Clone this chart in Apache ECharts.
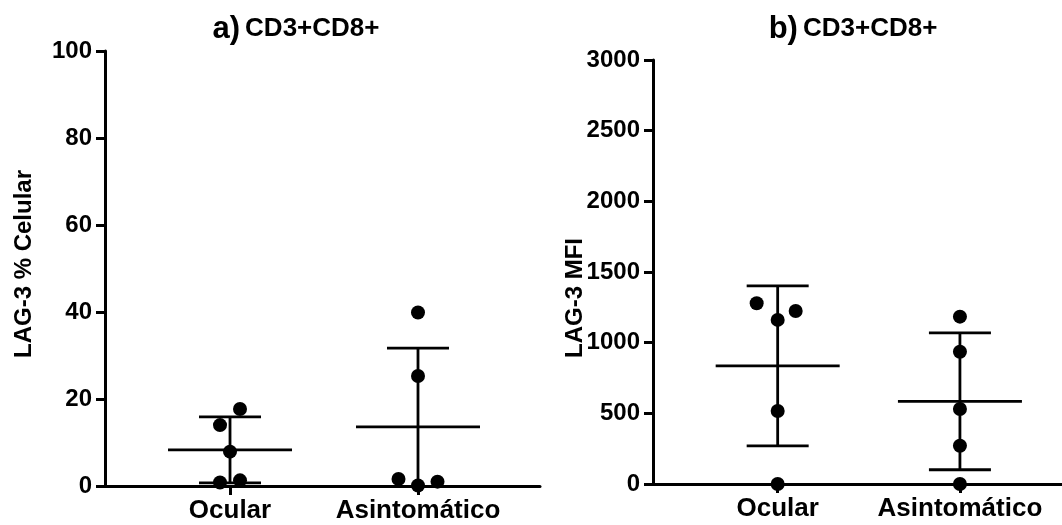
<!DOCTYPE html>
<html><head><meta charset="utf-8">
<script src="https://cdn.jsdelivr.net/npm/echarts@6/dist/echarts.min.js"></script>
<style>html,body{margin:0;padding:0;background:#fff}#c{width:1062px;height:525px}</style>
</head><body><div id="c"></div>
<script>
// ---- data ----
const categories = ['Ocular', 'Asintomático'];
// panel a) LAG-3 % Celular
const pctOcular = [17.7, 14.0, 7.9, 0.8, 1.3];
const pctAsint  = [39.9, 25.3, 1.6, 0.1, 1.0];
const pctMean   = [8.3, 13.6];
const pctSD     = [7.6, 18.1];
// panel b) LAG-3 MFI
const mfiOcular = [1279, 1161, 1224, 517, 0];
const mfiAsint  = [1184, 936, 531, 271, 0];
const mfiMean   = [836, 585];
const mfiSD     = [566, 484];
const titlesPanel = ['a)', 'b)'];
const titleText = 'CD3+CD8+';
const yNames = ['LAG-3 % Celular', 'LAG-3 MFI'];

// ---- layout (pixels) ----
const jitPct = [[10, -10, 0, -10, 10], [0, 0, -19.5, 0, 19.5]];
const jitMfi = [[-21, 0, 18, 0, 0], [0, 0, 0, 0, 0]];
const FONT = '"Liberation Sans", Arial, sans-serif';

function pts(groups, jit) {
  const out = [];
  groups.forEach((g, i) => g.forEach((v, j) => out.push([i, v, jit[i][j]])));
  return out;
}
function bars(mean, sd) { return mean.map((m, i) => [i, m, sd[i]]); }

function renderPoint(params, api) {
  const p = api.coord([api.value(0), api.value(1)]);
  return { type: 'circle', shape: { cx: p[0] + api.value(2), cy: p[1], r: 7 }, style: { fill: '#000' } };
}
function renderBar(params, api) {
  const i = api.value(0), m = api.value(1), s = api.value(2);
  const yMin = 0;
  const pm = api.coord([i, m]);
  const hi = api.coord([i, m + s]);
  const lowVal = Math.max(m - s, yMin);
  const lo = api.coord([i, lowVal]);
  const st = { stroke: '#000', lineWidth: 2.8 };
  const x = pm[0];
  const ch = [
    { type: 'line', shape: { x1: x - 62, y1: pm[1], x2: x + 62, y2: pm[1] }, style: st },
    { type: 'line', shape: { x1: x, y1: hi[1], x2: x, y2: lo[1] }, style: st },
    { type: 'line', shape: { x1: x - 31, y1: hi[1], x2: x + 31, y2: hi[1] }, style: st }
  ];
  if (m - s >= yMin) ch.push({ type: 'line', shape: { x1: x - 31, y1: lo[1], x2: x + 31, y2: lo[1] }, style: st });
  return { type: 'group', children: ch };
}

const axisLineStyle = { color: '#000', width: 3 };
function xAxisCfg(gi, min, max) {
  return {
    gridIndex: gi, type: 'value', min: min, max: max,
    axisLine: { show: true, onZero: false, lineStyle: axisLineStyle },
    axisTick: { show: true, customValues: [0, 1], length: 9, lineStyle: { color: '#000', width: 3 } },
    axisLabel: { customValues: [0, 1], formatter: v => categories[Math.round(v)], color: '#000',
      fontFamily: FONT, fontWeight: 'bold', fontSize: 26, margin: 12 },
    splitLine: { show: false }
  };
}
function yAxisCfg(gi, max, interval) {
  return {
    gridIndex: gi, type: 'value', min: 0, max: max, interval: interval,
    axisLine: { show: true, onZero: false, lineStyle: axisLineStyle },
    axisTick: { show: true, length: 9, lineStyle: { color: '#000', width: 3 } },
    axisLabel: { color: '#000', fontFamily: FONT, fontWeight: 'bold', fontSize: 24, margin: 13,
      formatter: v => String(v) },
    splitLine: { show: false }
  };
}
function titleCfg(i, cx) {
  return {
    left: cx, top: 7, textAlign: 'center',
    text: '{a|' + titlesPanel[i] + '} {b|' + titleText + '}',
    textStyle: { rich: {
      a: { fontFamily: FONT, fontWeight: 'bold', fontSize: 31, color: '#000', lineHeight: 34 },
      b: { fontFamily: FONT, fontWeight: 'bold', fontSize: 26, color: '#000', lineHeight: 34 }
    } }
  };
}

const chart = echarts.init(document.getElementById('c'), null, { renderer: 'canvas' });
chart.setOption({
  animation: false,
  backgroundColor: '#fff',
  title: [titleCfg(0, 291), titleCfg(1, 848)],
  grid: [
    { left: 105, top: 51, width: 435, height: 435 },
    { left: 653, top: 60, width: 409, height: 424 }
  ],
  xAxis: [xAxisCfg(0, -0.665, 1.649), xAxisCfg(1, -0.684, 1.56)],
  yAxis: [yAxisCfg(0, 100, 20), yAxisCfg(1, 3000, 500)],
  graphic: [
    { type: 'text', x: 24, y: 264, rotation: Math.PI / 2,
      style: { text: yNames[0], font: 'bold 24px ' + FONT, fill: '#000', textAlign: 'center', textVerticalAlign: 'middle' } },
    { type: 'text', x: 575, y: 298, rotation: Math.PI / 2,
      style: { text: yNames[1], font: 'bold 24px ' + FONT, fill: '#000', textAlign: 'center', textVerticalAlign: 'middle' } }
  ],
  series: [
    { type: 'custom', xAxisIndex: 0, yAxisIndex: 0, renderItem: renderBar, data: bars(pctMean, pctSD), encode: { x: 0, y: 1 }, clip: false, z: 3 },
    { type: 'custom', xAxisIndex: 0, yAxisIndex: 0, renderItem: renderPoint, data: pts([pctOcular, pctAsint], jitPct), encode: { x: 0, y: 1 }, clip: false, z: 4 },
    { type: 'custom', xAxisIndex: 1, yAxisIndex: 1, renderItem: renderBar, data: bars(mfiMean, mfiSD), encode: { x: 0, y: 1 }, clip: false, z: 3 },
    { type: 'custom', xAxisIndex: 1, yAxisIndex: 1, renderItem: renderPoint, data: pts([mfiOcular, mfiAsint], jitMfi), encode: { x: 0, y: 1 }, clip: false, z: 4 }
  ]
});
</script></body></html>
